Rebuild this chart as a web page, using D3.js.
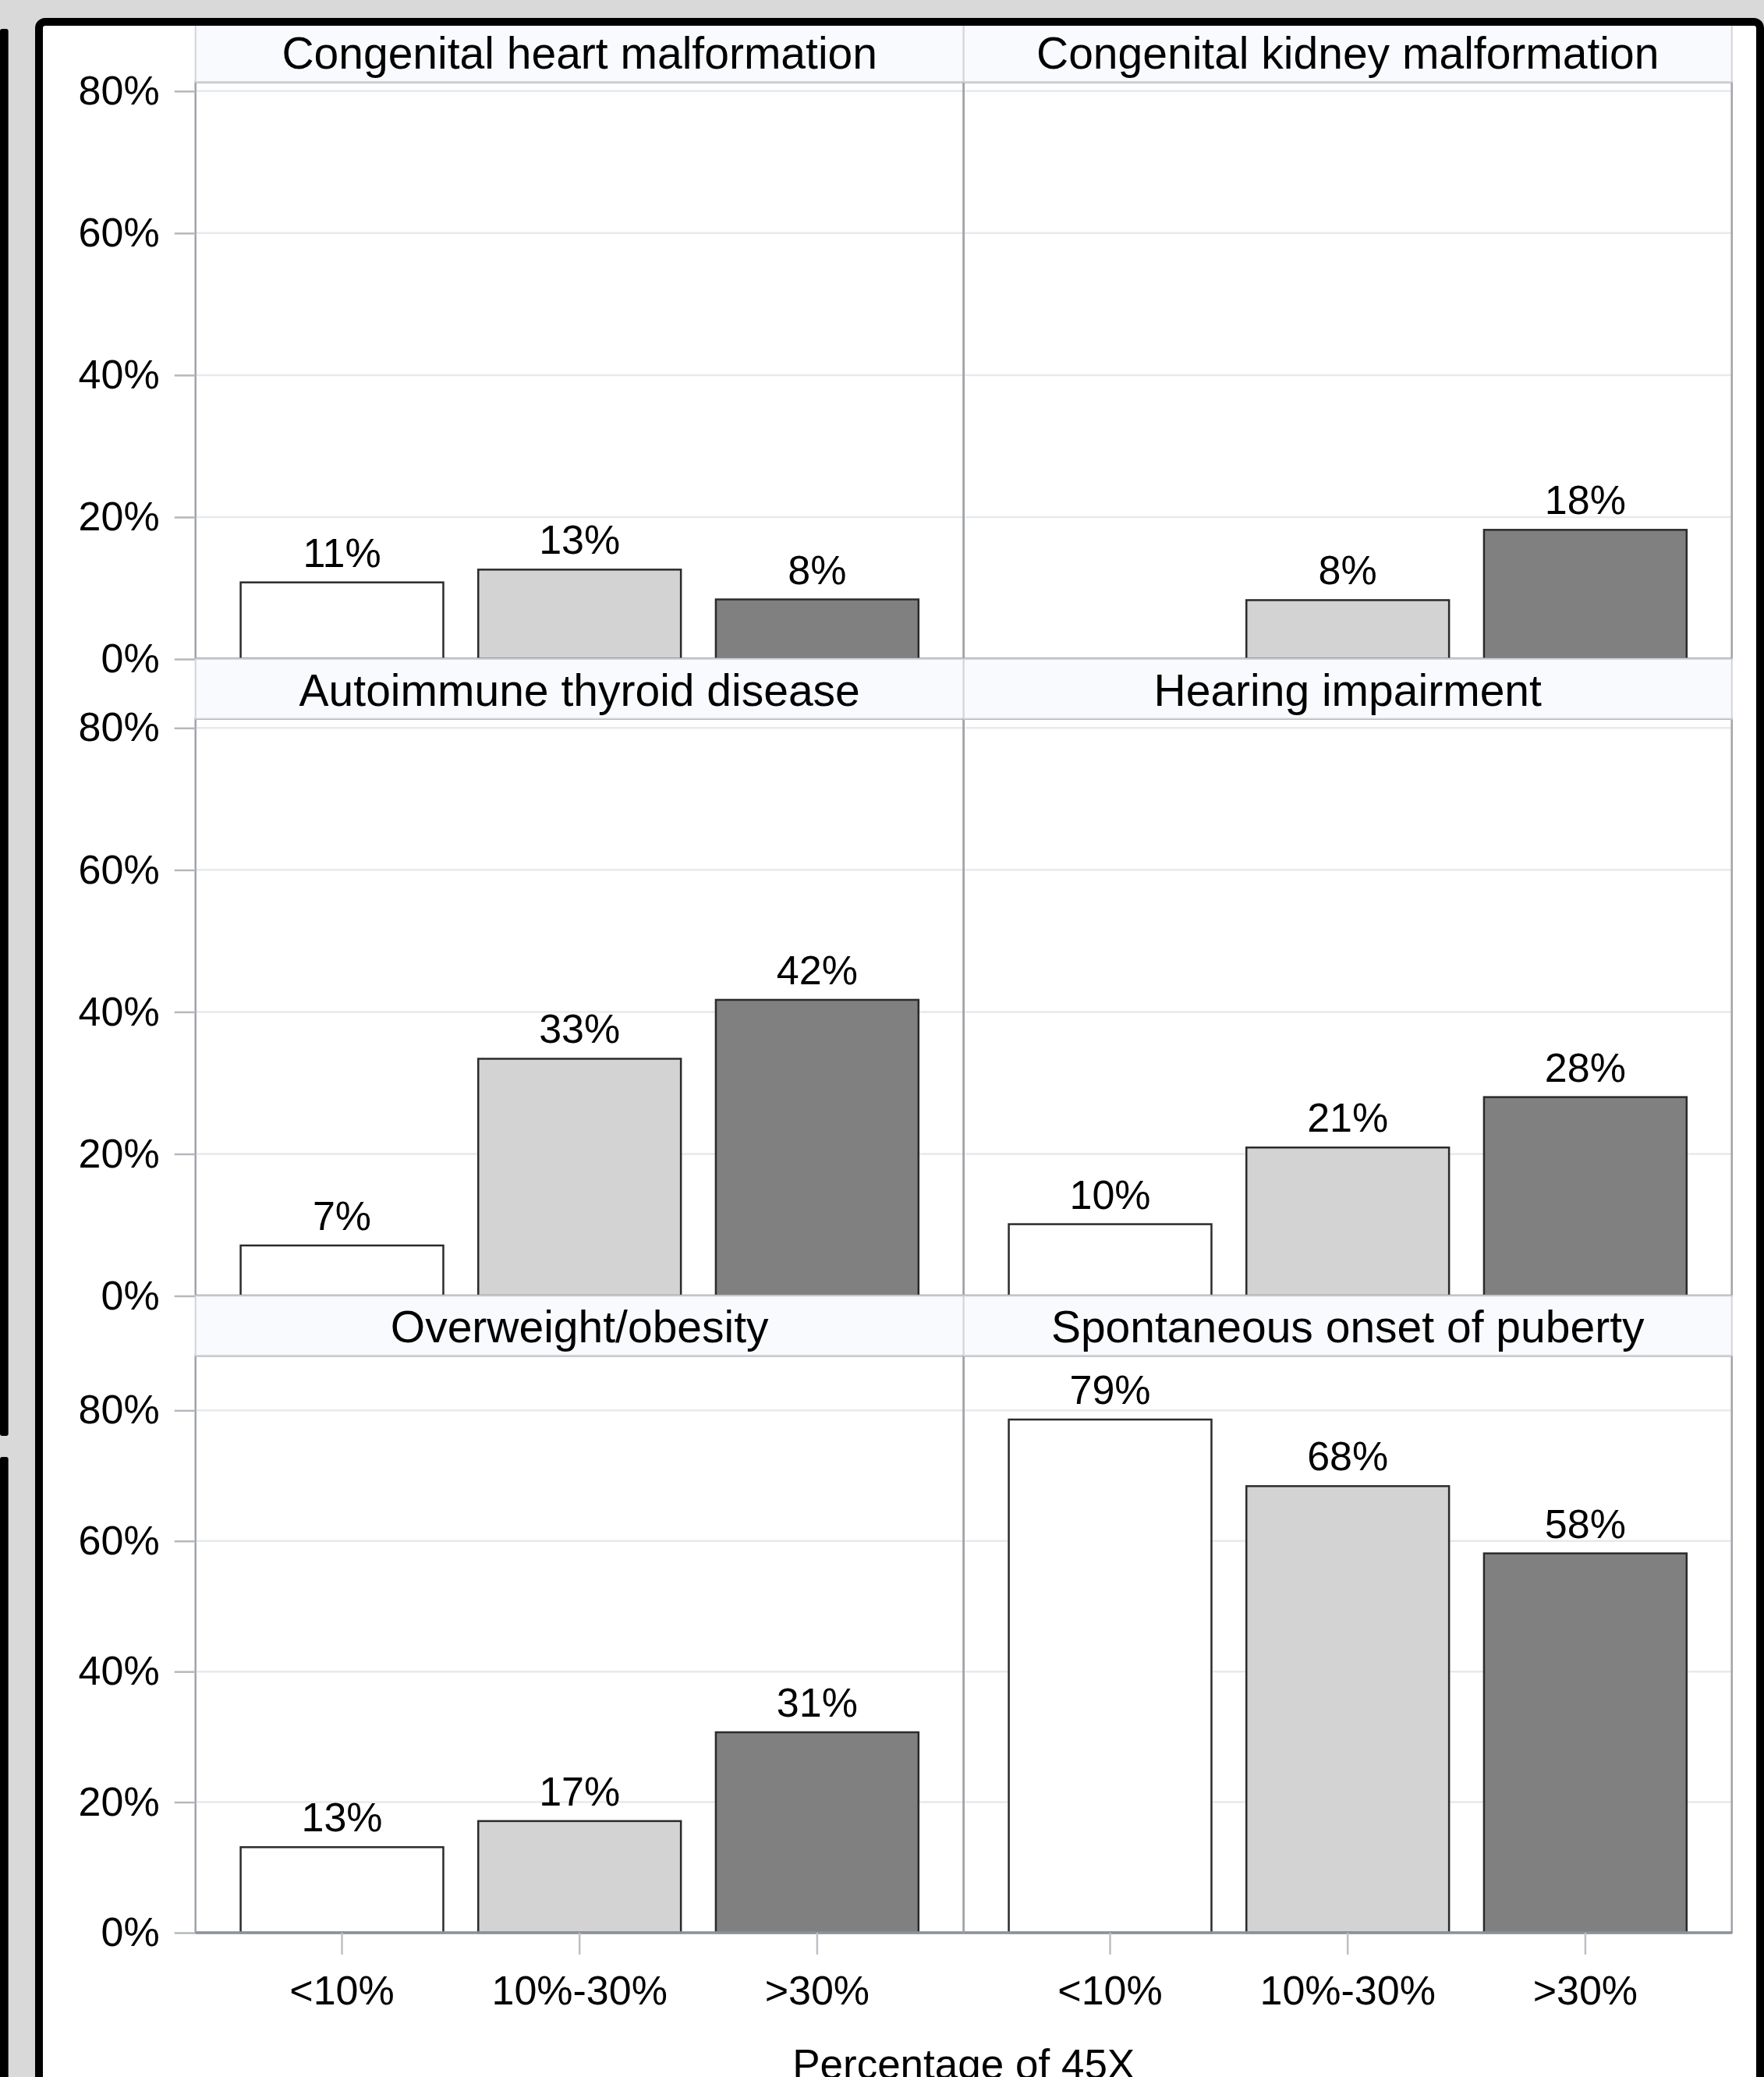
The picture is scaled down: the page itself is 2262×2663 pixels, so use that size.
<!DOCTYPE html>
<html>
<head>
<meta charset="utf-8">
<script src="https://cdn.jsdelivr.net/npm/d3@7"></script>
<style>
  body { margin: 0; background: #d9d9d9; }
  svg { display: block; font-family: "Liberation Sans", Arial, sans-serif; }
</style>
</head>
<body>
<div id="chart"></div>
<script>
// data (percent of patients)
var panelTitles = ["Congenital heart malformation", "Congenital kidney malformation",
                   "Autoimmune thyroid disease", "Hearing impairment",
                   "Overweight/obesity", "Spontaneous onset of puberty"];
var groups = ["<10%", "10%-30%", ">30%"];
var heartValues = [10.8, 12.6, 8.4];
var kidneyValues = [null, 8.3, 18.2];
var thyroidValues = [7.1, 33.4, 41.7];
var hearingValues = [10.1, 20.9, 28.0];
var obesityValues = [13.1, 17.1, 30.7];
var pubertyValues = [78.6, 68.4, 58.1];
var yTicks = [0, 20, 40, 60, 80];
var rowMax = [81.3, 81.3, 88.4];
var barColors = ["#ffffff", "#d3d3d3", "#808080"];
var xTitle = "Percentage of 45X";

var panelValues = [heartValues, kidneyValues, thyroidValues, hearingValues, obesityValues, pubertyValues];

var svgWidth = 2262;
var svgHeight = 2663;

// panel grid layout
var panelLeft = 250.7;
var panelW = 985;
var firstRowTop = 28.5;
var headerH = 76.5;
var plotH = 740;
var rowStep = headerH + plotH;

var svg = d3.select("#chart")
    .append("svg")
    .attr("width", svgWidth)
    .attr("height", svgHeight);

// screenshot background: grey, left black strips, black frame with white inside
svg.append("rect").attr("width", svgWidth).attr("height", svgHeight).attr("fill", "#d9d9d9");
svg.append("rect").attr("x", 0).attr("y", 37).attr("width", 10.7).attr("height", 1804).attr("rx", 3).attr("fill", "#000");
svg.append("rect").attr("x", 0).attr("y", 1868).attr("width", 10.7).attr("height", 900).attr("rx", 3).attr("fill", "#000");
svg.append("rect").attr("x", 50).attr("y", 28).attr("width", 2207).attr("height", 2700)
    .attr("rx", 8).attr("fill", "#fff");

var x = d3.scaleBand()
    .domain(groups)
    .range([0, panelW])
    .paddingInner(0.147)
    .paddingOuter(0.19);

panelValues.forEach(function(values, i) {
    var row = Math.floor(i / 2);
    var col = i % 2;
    var headerTop = firstRowTop + row * rowStep;
    var plotTop = headerTop + headerH;

    var y = d3.scaleLinear()
        .domain([0, rowMax[row]])
        .range([plotH, 0]);

    var g = svg.append("g")
        .attr("transform", `translate(${panelLeft + col * panelW},${plotTop})`);

    // header strip
    var header = svg.append("g")
        .attr("transform", `translate(${panelLeft + col * panelW},${headerTop})`);
    header.append("rect")
        .attr("width", panelW).attr("height", headerH)
        .attr("fill", "#f9fafd").attr("stroke", "#d2d5d8").attr("stroke-width", 2);
    header.append("text")
        .attr("x", panelW / 2).attr("y", headerH - 17)
        .attr("text-anchor", "middle")
        .attr("font-size", 57)
        .text(panelTitles[i]);

    // gridlines
    g.selectAll(".grid")
        .data(yTicks.filter(d => d > 0))
        .enter().append("line")
        .attr("x1", 0).attr("x2", panelW)
        .attr("y1", d => y(d)).attr("y2", d => y(d))
        .attr("stroke", "#e8e9eb").attr("stroke-width", 2.5);

    var bars = groups.map((k, j) => ({ key: k, value: values[j], color: barColors[j] }))
        .filter(d => d.value != null);

    g.selectAll(".bar")
        .data(bars)
        .enter().append("rect")
        .attr("x", d => x(d.key))
        .attr("y", d => y(d.value))
        .attr("width", x.bandwidth())
        .attr("height", d => plotH - y(d.value))
        .attr("fill", d => d.color)
        .attr("stroke", "#2b2b2b")
        .attr("stroke-width", 2.5);

    g.selectAll(".lbl")
        .data(bars)
        .enter().append("text")
        .attr("x", d => x(d.key) + x.bandwidth() / 2)
        .attr("y", d => y(d.value) - 20)
        .attr("text-anchor", "middle")
        .attr("font-size", 52)
        .text(d => Math.round(d.value) + "%");

    // panel border and baseline
    g.append("rect")
        .attr("width", panelW).attr("height", plotH)
        .attr("fill", "none").attr("stroke", "#a0a4a8").attr("stroke-width", 2.5);
    g.append("line")
        .attr("x1", 0).attr("x2", panelW).attr("y1", plotH).attr("y2", plotH)
        .attr("stroke", "#8e9296").attr("stroke-width", 3.5);
    g.append("line")
        .attr("x1", 0).attr("x2", panelW).attr("y1", 0).attr("y2", 0)
        .attr("stroke", "#9fa3a7").attr("stroke-width", 3);

    // y axis on the left column
    if (col == 0) {
        var yAxis = g.append("g")
            .call(d3.axisLeft(y).tickValues(yTicks).tickFormat(d => d + "%").tickSize(27).tickPadding(19));
        yAxis.select(".domain").remove();
        yAxis.selectAll("line").attr("stroke", "#b4b8bc").attr("stroke-width", 2.5);
        yAxis.selectAll("text").attr("font-size", 52).attr("fill", "#000")
            .attr("font-family", "'Liberation Sans', Arial, sans-serif");
    }

    // x axis under the bottom row
    if (row == 2) {
        var xAxis = g.append("g")
            .attr("transform", `translate(0,${plotH})`)
            .call(d3.axisBottom(x).tickSize(28).tickPadding(27));
        xAxis.select(".domain").remove();
        xAxis.selectAll("line").attr("stroke", "#bcc0c4").attr("stroke-width", 2.5);
        xAxis.selectAll("text").attr("font-size", 52).attr("fill", "#000")
            .attr("font-family", "'Liberation Sans', Arial, sans-serif");
    }
});

// x axis title, centred on the column divider (cut by the bottom edge, as in the source)
svg.append("text")
    .attr("x", panelLeft + panelW)
    .attr("y", 2665)
    .attr("text-anchor", "middle")
    .attr("font-size", 53)
    .text(xTitle);

// black frame drawn last so it sits over the top header
svg.append("rect").attr("x", 50).attr("y", 28).attr("width", 2207).attr("height", 2700)
    .attr("rx", 8).attr("fill", "none").attr("stroke", "#000").attr("stroke-width", 10);
</script>
</body>
</html>
